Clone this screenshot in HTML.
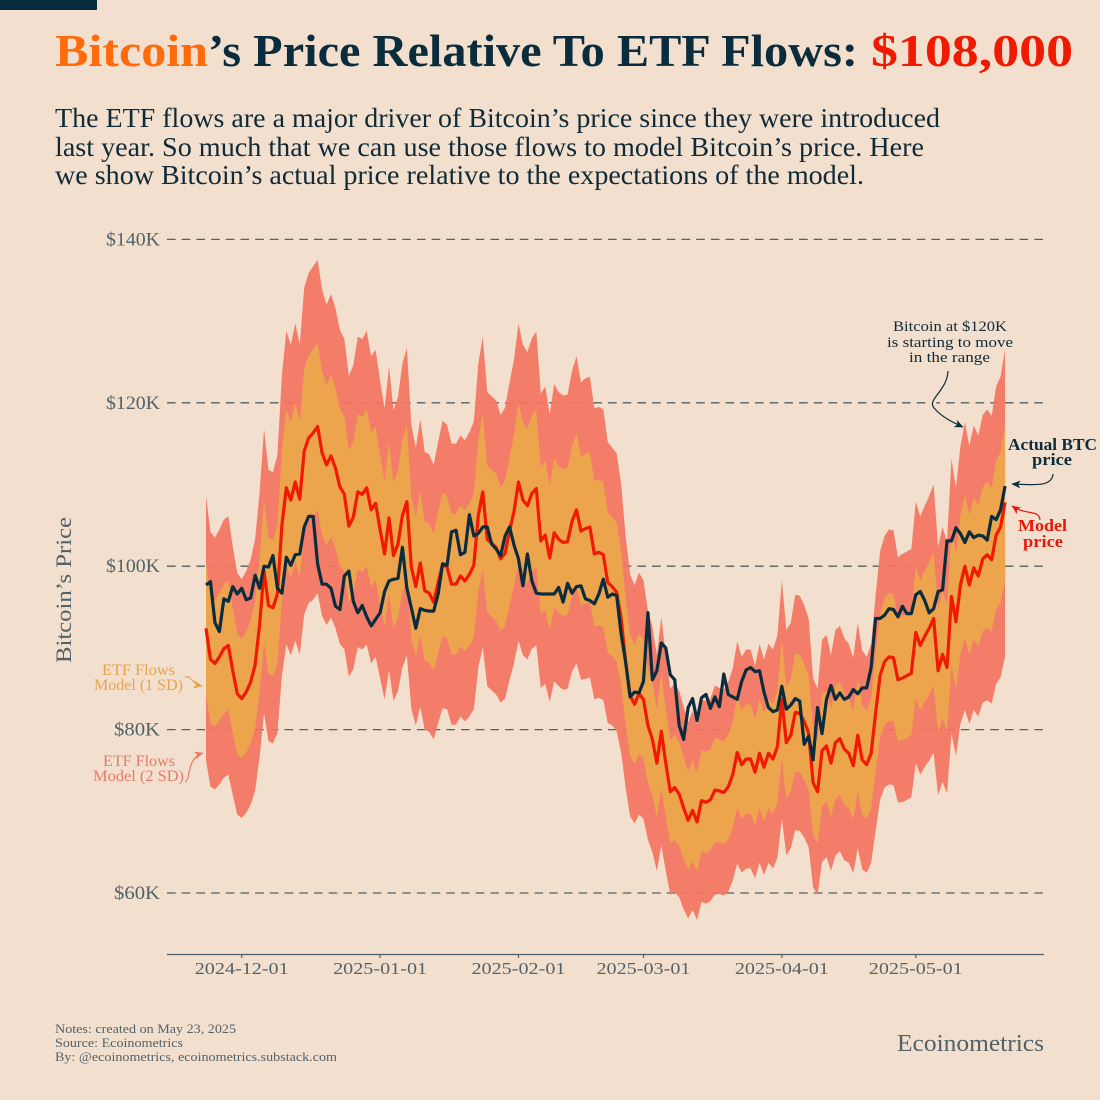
<!DOCTYPE html>
<html lang="en">
<head>
<meta charset="utf-8">
<title>Bitcoin's Price Relative To ETF Flows</title>
<style>
html,body{margin:0;padding:0;background:#f3dfcd;}
svg{display:block;font-family:"Liberation Serif",serif;}
</style>
</head>
<body>
<svg id="chart" width="1100" height="1100" viewBox="0 0 1100 1100" xmlns="http://www.w3.org/2000/svg">
  <defs>
    <marker id="ah-dark" markerWidth="10" markerHeight="8" refX="8.5" refY="4" orient="auto" markerUnits="userSpaceOnUse"><path d="M0 0L9 4L0 8L2.5 4Z" fill="#0b2c3c"/></marker>
    <marker id="ah-red" markerWidth="10" markerHeight="8" refX="8.5" refY="4" orient="auto" markerUnits="userSpaceOnUse"><path d="M0 0L9 4L0 8L2.5 4Z" fill="#e8170a"/></marker>
    <marker id="ah-one" markerWidth="10" markerHeight="8" refX="8.5" refY="4" orient="auto" markerUnits="userSpaceOnUse"><path d="M0 0L9 4L0 8L2.5 4Z" fill="#e8a24c"/></marker>
    <marker id="ah-two" markerWidth="10" markerHeight="8" refX="8.5" refY="4" orient="auto" markerUnits="userSpaceOnUse"><path d="M0 0L9 4L0 8L2.5 4Z" fill="#ea7a68"/></marker>
  </defs>
  <rect width="1100" height="1100" fill="#f3dfcd"/>
  <rect x="0" y="0" width="97" height="10" fill="#062c3e"/>

  <g font-weight="bold" font-size="45">
    <text x="55" y="66" fill="#ff6a0a" textLength="153" lengthAdjust="spacingAndGlyphs">Bitcoin</text>
    <text x="208" y="66" fill="#0b2c3c" textLength="650" lengthAdjust="spacingAndGlyphs">’s Price Relative To ETF Flows:</text>
    <text x="871" y="66" fill="#f01a00" textLength="202" lengthAdjust="spacingAndGlyphs">$108,000</text>
  </g>

  <g font-size="27" fill="#0f2a38">
    <text x="55" y="127" textLength="885" lengthAdjust="spacingAndGlyphs">The ETF flows are a major driver of Bitcoin’s price since they were introduced</text>
    <text x="55" y="156" textLength="869" lengthAdjust="spacingAndGlyphs">last year. So much that we can use those flows to model Bitcoin’s price. Here</text>
    <text x="55" y="184" textLength="809" lengthAdjust="spacingAndGlyphs">we show Bitcoin’s actual price relative to the expectations of the model.</text>
  </g>

  <g id="grid"></g>
  <g id="bands"></g>
  <g id="lines"></g>
  <g id="axes"></g>

  <text x="0" y="0" transform="translate(71,663) rotate(-90)" font-size="22" fill="#52626a" textLength="146" lengthAdjust="spacingAndGlyphs">Bitcoin’s Price</text>

  <g font-size="15.5" fill="#e8a24c">
    <text x="102" y="675" textLength="73" lengthAdjust="spacingAndGlyphs">ETF Flows</text>
    <text x="94" y="690" textLength="89" lengthAdjust="spacingAndGlyphs">Model (1 SD)</text>
    <path d="M185 677C191 675 192 684 202 686" fill="none" stroke="#e8a24c" stroke-width="1.2" marker-end="url(#ah-one)"/>
  </g>
  <g font-size="15.5" fill="#ea7a68">
    <text x="103" y="766" textLength="72" lengthAdjust="spacingAndGlyphs">ETF Flows</text>
    <text x="93" y="781" textLength="91" lengthAdjust="spacingAndGlyphs">Model (2 SD)</text>
    <path d="M185 782C191 780 186 758 203 753" fill="none" stroke="#ea7a68" stroke-width="1.2" marker-end="url(#ah-two)"/>
  </g>

  <g font-size="15" fill="#0f2a38">
    <path d="M948 371C947 392 925 400 935 409C942 417 952 422 963 427" fill="none" stroke="#f3dfcd" stroke-width="7"/>
    <text x="893" y="331" textLength="114" lengthAdjust="spacingAndGlyphs">Bitcoin at $120K</text>
    <text x="887" y="347" textLength="126" lengthAdjust="spacingAndGlyphs">is starting to move</text>
    <text x="909" y="362" textLength="81" lengthAdjust="spacingAndGlyphs">in the range</text>
    <path d="M948 371C947 392 925 400 935 409C942 417 952 422 963 427" fill="none" stroke="#0b2c3c" stroke-width="1.2" marker-end="url(#ah-dark)"/>
  </g>
  <g font-size="16.5" font-weight="bold" fill="#0b2c3c">
    <text x="1008" y="450" textLength="89" lengthAdjust="spacingAndGlyphs">Actual BTC</text>
    <text x="1032" y="465" textLength="40" lengthAdjust="spacingAndGlyphs">price</text>
    <path d="M1053 474C1052 487 1035 485 1012 484" fill="none" stroke="#0b2c3c" stroke-width="1.2" marker-end="url(#ah-dark)"/>
  </g>
  <g font-size="16.5" font-weight="bold" fill="#e8170a">
    <text x="1018" y="531" textLength="49" lengthAdjust="spacingAndGlyphs">Model</text>
    <text x="1023" y="547" textLength="40" lengthAdjust="spacingAndGlyphs">price</text>
    <path d="M1040 520C1039 509 1027 516 1012 506" fill="none" stroke="#e8170a" stroke-width="1.2" marker-end="url(#ah-red)"/>
  </g>

  <g font-size="13" fill="#52626a">
    <text x="55" y="1033" textLength="181" lengthAdjust="spacingAndGlyphs">Notes: created on May 23, 2025</text>
    <text x="55" y="1047" textLength="128" lengthAdjust="spacingAndGlyphs">Source: Ecoinometrics</text>
    <text x="55" y="1061" textLength="282" lengthAdjust="spacingAndGlyphs">By: @ecoinometrics, ecoinometrics.substack.com</text>
  </g>
  <text x="897" y="1051" font-size="24" fill="#52626a" textLength="147" lengthAdjust="spacingAndGlyphs">Ecoinometrics</text>
</svg>

<script>
const startDate = '2024-11-23';
const yTicks = [60, 80, 100, 120, 140];
const xTickLabels = ['2024-12-01', '2025-01-01', '2025-02-01', '2025-03-01', '2025-04-01', '2025-05-01'];
const modelPrice = [
92.4,88.6,88.1,88.9,89.9,90.3,87.2,84.4,83.8,84.6,85.8,87.9,92.8,99.4,95.2,94.9,96.6,105,109.6,108.1,
110.3,108.2,114.1,115.7,116.3,117.1,113.9,112.4,113.5,112,109.7,108.8,104.9,106,109.1,108.8,109.6,106.9,107.7,104.5,
101.5,105.9,101.3,102.7,106.2,107.9,99.9,97.5,100.4,97,96.7,95.6,98,100.2,99.9,97.8,97.8,98.8,98.2,99,
100.1,106.2,109.1,103.3,102.8,102.3,100.9,101.6,104.3,106.7,110.3,108.1,107.4,108.9,109.5,103.1,103.8,101,104.1,103.3,
102.9,103,105.5,106.9,104.3,104.6,104.8,101.5,101.7,101.4,98,97.5,96.8,93.6,88.3,84.2,83.1,84.4,83.7,80.5,
78.8,75.9,79.8,75.9,72.4,72.9,72.1,70.4,68.9,70.1,68.7,71.3,71.1,71.4,72.6,72.5,72.3,73,74.5,77.2,
75.7,76.4,76.4,74.8,77.1,75.4,77.1,76.4,77.9,83.7,78.4,79.3,82.1,82,81,79.6,73.5,72.4,77.4,78,
75.9,78.4,78.9,77.6,77.1,75.6,79.3,76.3,75.7,77.1,82,86.6,88.3,88.9,88.8,86.1,86.3,86.6,86.9,91.9,
90.3,91.4,92.4,93.6,87.2,89.2,87.6,96.3,93.2,97.7,100,97.7,99.8,98.8,100.9,101.4,100.8,103.8,104.8,107.8
];
const actualPrice = [
97.7,98.1,93.1,92,96,95.7,97.5,96.6,97.3,95.9,96.1,98.9,97.3,100,99.9,101.3,97.3,96.7,101.1,100.1,
101.4,101.5,104.8,106.1,106.1,100.3,97.8,97.8,97.3,95.1,94.7,98.8,99.4,95.7,94.3,95.2,93.8,92.7,93.5,94.3,
96.9,98.2,98.4,98.5,102.3,97.3,94.9,92.4,94.8,94.6,94.5,94.5,96.6,100.3,100.1,104.2,104.4,101.4,101.7,106.3,
103.7,104,104.8,104.8,102.7,102.1,101.3,103.7,104.8,102.6,100.9,97.6,101.5,98.2,96.7,96.6,96.6,96.6,96.6,97.4,
95.6,97.9,96.7,97.5,97.6,96,95.8,95.4,96.6,98.4,96.2,96.6,96.4,91.7,88.3,84,84.6,84.5,85.9,94.3,
86.1,87.2,90.6,90,86.7,86.1,80.5,78.8,82.7,83.8,81.1,83.9,84.3,82.6,84,82.8,86.8,84.3,84,83.7,
85.9,87.3,87.6,87.1,87.2,84.6,82.7,82.2,82.4,85.3,82.5,83,83.8,83.5,78.2,79.2,76.3,82.7,79.5,83.7,
85.4,83.7,84.5,83.7,84,84.9,84.4,85.1,85.1,87.6,93.6,93.6,94,94.8,94.7,93.8,95.1,94.2,94.2,96.5,
96.9,95.8,94.3,94.8,96.9,97.1,103.1,103.1,104.7,104,102.9,104.2,103.5,103.8,103.7,103.2,106.1,105.7,106.9,109.8
];
const modelSd = [
8.1,7.8,7.7,7.8,7.9,7.9,7.6,7.4,7.3,7.4,7.5,7.7,8.1,8.7,8.3,8.3,8.5,9.2,9.6,9.5,
9.7,9.5,10,10.1,10.2,10.2,10,9.8,9.9,9.8,9.6,9.5,9.2,9.3,9.5,9.5,9.6,9.4,9.4,9.1,
8.9,9.3,8.9,9,9.3,9.4,8.7,8.5,8.8,8.5,8.5,8.4,8.6,8.8,8.7,8.6,8.6,8.6,8.6,8.7,
8.8,9.3,9.5,9,9,9,8.8,8.9,9.1,9.3,9.7,9.5,9.4,9.5,9.6,9,9.1,8.8,9.1,9,
9,9,9.2,9.4,9.1,9.2,9.2,8.9,8.9,8.9,8.6,8.5,8.5,8.2,7.7,7.4,7.3,7.4,7.3,7,
6.9,6.6,7,6.6,6.3,6.4,6.3,6.2,6,6.1,6,6.2,6.2,6.2,6.4,6.3,6.3,6.4,6.5,6.8,
6.6,6.7,6.7,6.5,6.7,6.6,6.7,6.7,6.8,7.3,6.9,6.9,7.2,7.2,7.1,7,6.4,6.3,6.8,6.8,
6.6,6.9,6.9,6.8,6.7,6.6,6.9,6.7,6.6,6.7,7.2,7.6,7.7,7.8,7.8,7.5,7.6,7.6,7.6,8,
7.9,8,8.1,8.2,7.6,7.8,7.7,8.4,8.2,8.5,8.8,8.5,8.7,8.6,8.8,8.9,8.8,9.1,9.2,9.4
];

const SVG_NS = 'http://www.w3.org/2000/svg';
function xPos(i) { return 206 + 4.464 * i; }
function yPos(v) { return 893 - (v - 60) * 8.17; }
function dayIndex(s) { return (Date.parse(s) - Date.parse(startDate)) / 86400000; }
function pathFrom(values) {
  return values.map(function (v, i) { return (i ? 'L' : 'M') + xPos(i).toFixed(2) + ' ' + yPos(v).toFixed(2); }).join('');
}
function bandPath(k) {
  const upper = modelPrice.map(function (m, i) { return m + k * modelSd[i]; });
  const lower = modelPrice.map(function (m, i) { return m - k * modelSd[i]; });
  let d = pathFrom(upper);
  for (let i = lower.length - 1; i >= 0; i--) {
    d += 'L' + xPos(i).toFixed(2) + ' ' + yPos(lower[i]).toFixed(2);
  }
  return d + 'Z';
}
function make(tag, attrs, parent) {
  const el = document.createElementNS(SVG_NS, tag);
  Object.keys(attrs).forEach(function (k) { el.setAttribute(k, attrs[k]); });
  parent.appendChild(el);
  return el;
}

const gridG = document.getElementById('grid');
const axesG = document.getElementById('axes');
const bandsG = document.getElementById('bands');
const linesG = document.getElementById('lines');

yTicks.forEach(function (t) {
  const line = make('line', { x1: 167, x2: 1043, y1: yPos(t), y2: yPos(t), stroke: '#52626a', 'stroke-width': 1.3, 'stroke-dasharray': '8.6 6.1' }, gridG);
  
  
  const label = '$' + t + 'K';
  const lab = make('text', { x: 160, y: yPos(t) + 6, 'font-size': 18.5, fill: '#52626a', 'text-anchor': 'end', textLength: label.length === 5 ? 54 : 46, lengthAdjust: 'spacingAndGlyphs' }, axesG);
  
  
  lab.textContent = label;
});

const outer = make('path', { d: bandPath(2), fill: '#f37461', 'fill-opacity': 0.92 }, bandsG);


const inner = make('path', { d: bandPath(1), fill: '#eda84b', 'fill-opacity': 0.92 }, bandsG);



const redLine = make('path', { d: pathFrom(modelPrice), fill: 'none', stroke: '#f01a00', 'stroke-width': 3.2, 'stroke-linejoin': 'round' }, linesG);


const darkLine = make('path', { d: pathFrom(actualPrice), fill: 'none', stroke: '#0b2c3c', 'stroke-width': 3.2, 'stroke-linejoin': 'round' }, linesG);



const axisLine = make('line', { x1: 167, x2: 1044, y1: 954.5, y2: 954.5, stroke: '#52626a', 'stroke-width': 1.3 }, axesG);


xTickLabels.forEach(function (s) {
  const x = xPos(dayIndex(s));
  const tick = make('line', { x1: x, x2: x, y1: 954.5, y2: 958, stroke: '#52626a', 'stroke-width': 1.2 }, axesG);
  
  
  const lab = make('text', { x: x, y: 974, 'font-size': 17, fill: '#52626a', 'text-anchor': 'middle', textLength: 94, lengthAdjust: 'spacingAndGlyphs' }, axesG);
  
  
  lab.textContent = s;
});
</script>
</body>
</html>
